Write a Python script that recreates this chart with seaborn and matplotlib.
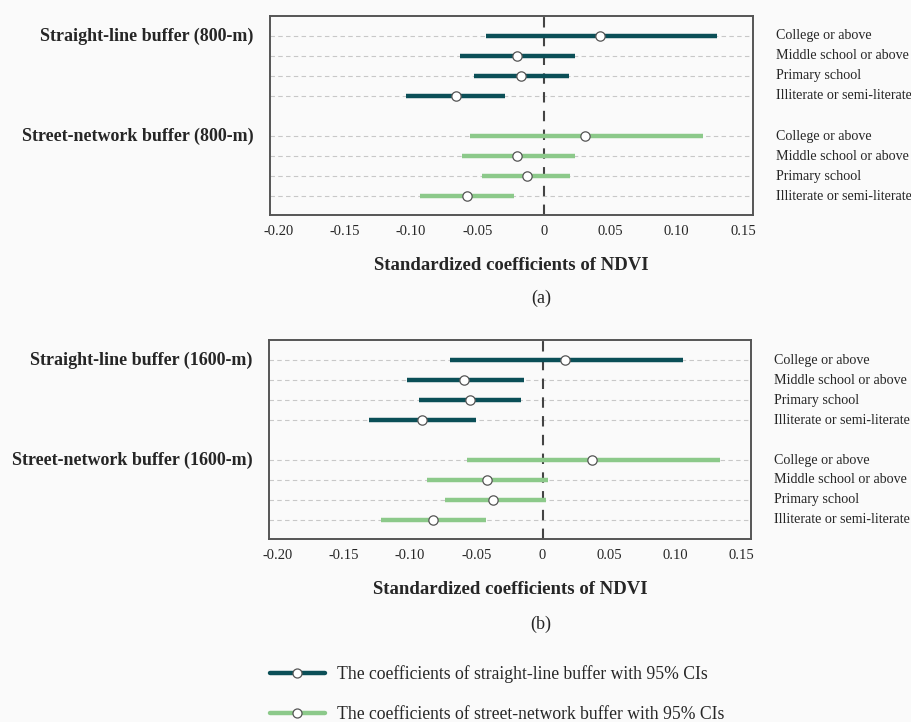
import numpy as np
import pandas as pd
import seaborn as sns
import matplotlib.pyplot as plt
from matplotlib.lines import Line2D

# education levels (top to bottom within each buffer group)
levels = ["College or above", "Middle school or above", "Primary school", "Illiterate or semi-literate"]

# panel (a): 800-m buffers
a_straight_coef = [0.042, -0.020, -0.017, -0.066]
a_straight_low = [-0.0435, -0.063, -0.053, -0.1035]
a_straight_high = [0.130, 0.0234, 0.019, -0.029]
a_street_coef = [0.031, -0.020, -0.013, -0.058]
a_street_low = [-0.0555, -0.062, -0.047, -0.0935]
a_street_high = [0.120, 0.0234, 0.0196, -0.0228]

# panel (b): 1600-m buffers
b_straight_coef = [0.017, -0.059, -0.055, -0.091]
b_straight_low = [-0.0696, -0.102, -0.093, -0.131]
b_straight_high = [0.106, -0.014, -0.0166, -0.050]
b_street_coef = [0.037, -0.042, -0.037, -0.083]
b_street_low = [-0.057, -0.087, -0.0736, -0.122]
b_street_high = [0.134, 0.004, 0.0023, -0.0425]

xticks = [-0.20, -0.15, -0.10, -0.05, 0, 0.05, 0.10, 0.15]
xticklabels = ["-0.20", "-0.15", "-0.10", "-0.05", "0", "0.05", "0.10", "0.15"]

dark = "#0b4f57"
light = "#8cc98a"
bg = "#fafafa"

sns.set_style("white")
plt.rcParams["font.family"] = ["Liberation Serif", "DejaVu Serif"]


def make_df(s_coef, s_low, s_high, n_coef, n_low, n_high):
    df = pd.DataFrame({
        "level": levels + levels,
        "group": ["straight"] * 4 + ["street"] * 4,
        "coef": s_coef + n_coef,
        "low": s_low + n_low,
        "high": s_high + n_high,
    })
    # row position: slot 4 left empty as a gap between groups
    df["row"] = [0, 1, 2, 3, 5, 6, 7, 8]
    return df


def draw_panel(ax, df, buf):
    ax.set_facecolor(bg)
    for r in df["row"]:
        ax.axhline(r, color="#c8c8c8", lw=0.8, ls=(0, (4, 3)), zorder=0)
    ax.axvline(0, color="#444444", lw=1.5, ls=(0, (5, 4)), zorder=1)
    for grp, col in [("straight", dark), ("street", light)]:
        d = df[df["group"] == grp]
        ax.hlines(d["row"], d["low"], d["high"], color=col, lw=3.2, zorder=2)
    sns.scatterplot(data=df, x="coef", y="row", ax=ax, color="white",
                    edgecolor="#555555", linewidth=0.9, s=45, zorder=3, legend=False)
    ax.set_xlim(-0.2063, 0.1576)
    ax.set_ylim(8.95, -1)
    ax.set_yticks([])
    ax.set_ylabel("")
    ax.set_xticks(xticks)
    ax.set_xticklabels(xticklabels, fontsize=10.5)
    ax.tick_params(axis="x", direction="out", length=4, width=1, color="#333333", pad=3)
    for sp in ax.spines.values():
        sp.set_color("#555555")
        sp.set_linewidth(1.4)
    ax.set_xlabel("Standardized coefficients of NDVI", fontsize=13.5, fontweight="bold", labelpad=14)
    for r, lab in zip(df["row"], df["level"]):
        ax.text(1.046, r, lab, transform=ax.get_yaxis_transform(), ha="left", va="center", fontsize=10.1)
    ax.text(-0.034, 0, "Straight-line buffer (%s)" % buf, transform=ax.get_yaxis_transform(),
            ha="right", va="center", fontsize=13, fontweight="bold")
    ax.text(-0.034, 5, "Street-network buffer (%s)" % buf, transform=ax.get_yaxis_transform(),
            ha="right", va="center", fontsize=13, fontweight="bold")


fig = plt.figure(figsize=(9.12, 7.22), dpi=100, facecolor=bg)
ax1 = fig.add_axes([0.296, 0.702, 0.530, 0.276])
ax2 = fig.add_axes([0.295, 0.2535, 0.529, 0.2755])

draw_panel(ax1, make_df(a_straight_coef, a_straight_low, a_straight_high,
                        a_street_coef, a_street_low, a_street_high), "800-m")
draw_panel(ax2, make_df(b_straight_coef, b_straight_low, b_straight_high,
                        b_street_coef, b_street_low, b_street_high), "1600-m")

fig.text(0.593, 1 - 298 / 722, "(a)", ha="center", va="center", fontsize=13)
fig.text(0.593, 1 - 624 / 722, "(b)", ha="center", va="center", fontsize=13)

handles = [
    Line2D([], [], color=dark, lw=3.2, marker="o", markersize=6.5,
           markerfacecolor="white", markeredgecolor="#555555", markeredgewidth=0.9),
    Line2D([], [], color=light, lw=3.2, marker="o", markersize=6.5,
           markerfacecolor="white", markeredgecolor="#555555", markeredgewidth=0.9),
]
fig.legend(handles,
           ["The coefficients of straight-line buffer with 95% CIs",
            "The coefficients of street-network buffer with 95% CIs"],
           loc="upper left", bbox_to_anchor=(0.296, 0.079), frameon=False,
           fontsize=12.7, handlelength=3.1, handletextpad=0.7, labelspacing=1.3,
           borderaxespad=0, borderpad=0)

fig.savefig("out.png", dpi=100, facecolor=bg)
